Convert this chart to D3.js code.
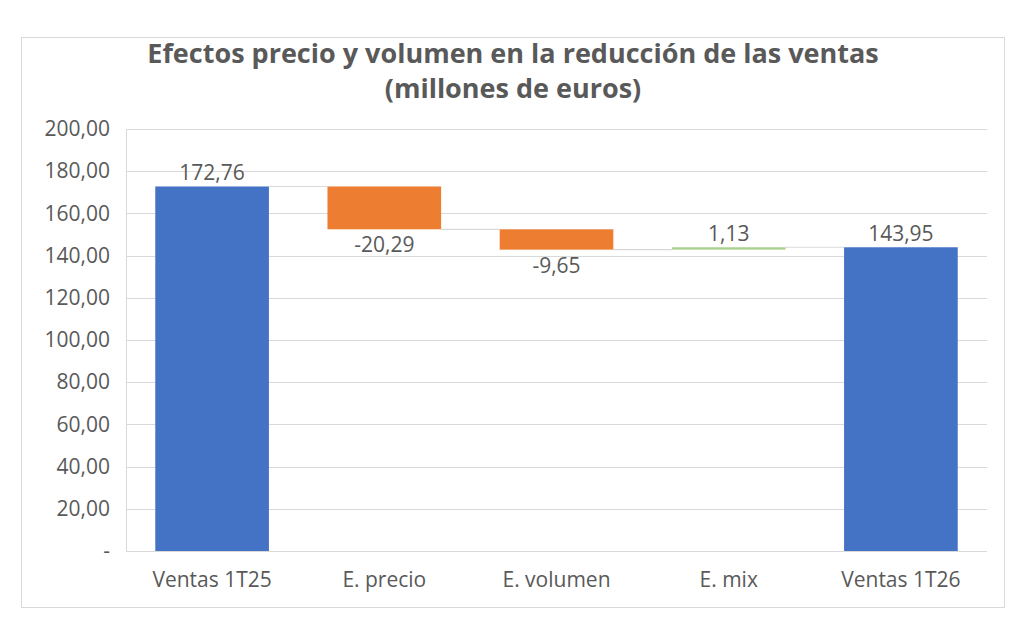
<!DOCTYPE html>
<html>
<head>
<meta charset="utf-8">
<script src="https://cdn.jsdelivr.net/npm/d3@7"></script>
<style>
  body { margin: 0; background: #fff; }
  text { font-family: "Open Sans", sans-serif; fill: #595959; }
</style>
</head>
<body>
<svg id="chart" width="1024" height="631"></svg>
<script>
// --- Données
const categories = ["Ventas 1T25", "E. precio", "E. volumen", "E. mix", "Ventas 1T26"];
const values = [172.76, -20.29, -9.65, 1.13, 143.95];
const isTotal = [true, false, false, false, true];
const labels = ["172,76", "-20,29", "-9,65", "1,13", "143,95"];
const yTicks = [0, 20, 40, 60, 80, 100, 120, 140, 160, 180, 200];
const titleLines = ["Efectos precio y volumen en la reducción de las ventas", "(millones de euros)"];

const colors = { total: "#4472c4", down: "#ed7d31", up: "#a9d18e" };

// --- Calcul cumulatif (cascade)
let running = 0;
const bars = categories.map((c, i) => {
    let start, end;
    if (isTotal[i]) { start = 0; end = values[i]; }
    else { start = running; end = running + values[i]; }
    running = end;
    return { cat: c, start, end, value: values[i], total: isTotal[i], label: labels[i] };
});

const svg = d3.select("#chart");
const fmt = (v) => v === 0 ? "-" : d3.format(".2f")(v).replace(".", ",");

// --- Cadre
svg.append("rect")
    .attr("x", 21.5).attr("y", 37.5)
    .attr("width", 983).attr("height", 570)
    .attr("fill", "#fff")
    .attr("stroke", "#d9d9d9");

// --- Titre
const title = svg.append("text")
    .attr("text-anchor", "middle")
    .attr("font-weight", "bold")
    .attr("font-size", 27);
title.append("tspan").attr("x", 513).attr("y", 63).text(titleLines[0]);
title.append("tspan").attr("x", 513).attr("y", 98).text(titleLines[1]);

// --- Échelles
const x = d3.scaleBand()
    .domain(categories)
    .range([126, 987])
    .paddingInner(0.34)
    .paddingOuter(0.17);

const y = d3.scaleLinear()
    .domain([0, 200])
    .range([551, 129]);

// --- Grille
svg.append("g")
    .selectAll("line")
    .data(yTicks)
    .join("line")
    .attr("x1", 126).attr("x2", 987)
    .attr("y1", d => Math.round(y(d)) + 0.5)
    .attr("y2", d => Math.round(y(d)) + 0.5)
    .attr("stroke", "#d9d9d9");

svg.append("line")
    .attr("x1", 126.5).attr("x2", 126.5)
    .attr("y1", y(200)).attr("y2", y(0))
    .attr("stroke", "#d9d9d9");

// --- Axe Y
const yAxis = svg.append("g")
    .attr("transform", "translate(126,0)")
    .call(d3.axisLeft(y).tickValues(yTicks).tickFormat(fmt).tickSize(0).tickPadding(16));
yAxis.select(".domain").remove();
yAxis.selectAll("text")
    .attr("font-size", 21)
    .attr("font-family", "Open Sans, sans-serif")
    .attr("fill", "#595959");

// --- Axe X
const xAxis = svg.append("g")
    .attr("transform", `translate(0,${y(0)})`)
    .call(d3.axisBottom(x).tickSize(0).tickPadding(21));
xAxis.select(".domain").remove();
xAxis.selectAll("text")
    .attr("font-size", 21)
    .attr("font-family", "Open Sans, sans-serif")
    .attr("fill", "#595959");

// --- Connecteurs
svg.append("g")
    .selectAll("line")
    .data(bars.slice(0, -1))
    .join("line")
    .attr("x1", (d) => x(d.cat) + x.bandwidth())
    .attr("x2", (d, i) => x(categories[i + 1]))
    .attr("y1", d => y(d.end))
    .attr("y2", d => y(d.end))
    .attr("stroke", "#d9d9d9")
    .attr("stroke-width", 1.2);

// --- Barres
svg.append("g")
    .selectAll("rect")
    .data(bars)
    .join("rect")
    .attr("x", d => x(d.cat))
    .attr("width", x.bandwidth())
    .attr("y", d => y(Math.max(d.start, d.end)))
    .attr("height", d => Math.abs(y(d.start) - y(d.end)))
    .attr("fill", d => d.total ? colors.total : (d.value < 0 ? colors.down : colors.up));

// --- Étiquettes
svg.append("g")
    .selectAll("text")
    .data(bars)
    .join("text")
    .attr("text-anchor", "middle")
    .attr("font-size", 21)
    .attr("x", d => x(d.cat) + x.bandwidth() / 2)
    .attr("y", d => d.value < 0 ? y(Math.min(d.start, d.end)) + 23 : y(Math.max(d.start, d.end)) - 6)
    .text(d => d.label);
</script>
</body>
</html>
